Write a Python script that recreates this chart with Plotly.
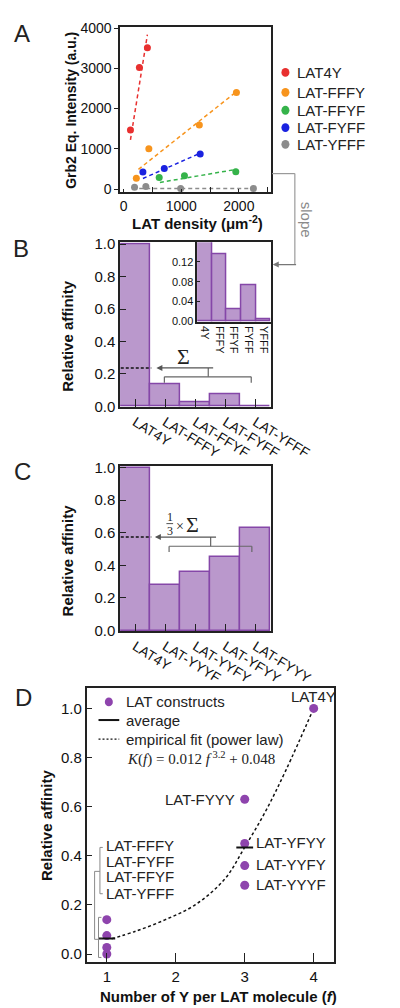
import plotly.graph_objects as go

W, H = 400, 1008
def X(px): return px / W
def Y(py): return 1 - py / H

FONT = "Liberation Sans, Arial, sans-serif"
SERIF = "Liberation Serif, DejaVu Serif, serif"

# ---------------- Panel A data ----------------
a_names = ["LAT4Y", "LAT-FFFY", "LAT-FFYF", "LAT-FYFF", "LAT-YFFF"]
a_colors = ["#E8302F", "#F7941D", "#35B34A", "#1A22E0", "#8C8C8C"]
lat4y_x = [119, 274, 413]
lat4y_y = [1469, 3020, 3510]
fffy_x = [221, 438, 1314, 1958]
fffy_y = [269, 1000, 1591, 2399]
ffyf_x = [618, 1056, 1947]
ffyf_y = [286, 328, 433]
fyff_x = [335, 706, 1329]
fyff_y = [426, 514, 874]
yfff_x = [190, 386, 990, 2252]
yfff_y = [42, 66, 17, 17]
lat4y_fit_x, lat4y_fit_y = [119, 413], [1224, 3836]
fffy_fit_x, fffy_fit_y = [258, 1983], [490, 2448]
ffyf_fit_x, ffyf_fit_y = [630, 1958], [164, 490]
fyff_fit_x, fyff_fit_y = [335, 1365], [262, 915]
yfff_fit_x, yfff_fit_y = [150, 2260], [17, 17]

# ---------------- Panel B data ----------------
b_cats = ["LAT4Y", "LAT-FFFY", "LAT-FFYF", "LAT-FYFF", "LAT-YFFF"]
b_vals = [1.0, 0.135, 0.025, 0.073, 0.004]
b_inset_labels = ["4Y", "FFFY", "FFYF", "FYFF", "YFFF"]

# ---------------- Panel C data ----------------
c_cats = ["LAT4Y", "LAT-YYYF", "LAT-YYFY", "LAT-YFYY", "LAT-FYYY"]
c_vals = [1.0, 0.28, 0.36, 0.45, 0.63]

# ---------------- Panel D data ----------------
d_f1 = [1, 1, 1, 1]
d_k1 = [0.14, 0.075, 0.027, 0.0]
d_f3 = [3, 3, 3, 3]
d_k3 = [0.63, 0.45, 0.36, 0.28]
d_f4 = [4]
d_k4 = [1.0]
avg_f = [1, 3]
avg_k = [0.063, 0.434]
fit_f = [1.07, 1.42, 1.85, 2.28, 2.71, 2.99, 3.3, 3.6, 4.0]
fit_k = [0.062, 0.093, 0.14, 0.2, 0.305, 0.43, 0.58, 0.75, 1.0]

BAR_FILL = "#BA98CC"
BAR_LINE = "#8547A8"
PURPLE = "#8E44AD"

fig = go.Figure()

# Panel A traces
a_sets = [(lat4y_x, lat4y_y, lat4y_fit_x, lat4y_fit_y),
          (fffy_x, fffy_y, fffy_fit_x, fffy_fit_y),
          (ffyf_x, ffyf_y, ffyf_fit_x, ffyf_fit_y),
          (fyff_x, fyff_y, fyff_fit_x, fyff_fit_y),
          (yfff_x, yfff_y, yfff_fit_x, yfff_fit_y)]
for (px_, py_, fx, fy), col, nm in zip(a_sets, a_colors, a_names):
    fig.add_trace(go.Scatter(x=fx, y=fy, mode="lines", xaxis="x", yaxis="y",
                             line=dict(color=col, width=1.5, dash="4px,3px"),
                             showlegend=False, hoverinfo="skip"))
    fig.add_trace(go.Scatter(x=px_, y=py_, mode="markers", xaxis="x", yaxis="y",
                             marker=dict(color=col, size=7), name=nm, showlegend=False))

# Panel B main
fig.add_trace(go.Bar(x=b_cats, y=b_vals, xaxis="x2", yaxis="y2", width=1,
                     marker=dict(color=BAR_FILL, line=dict(color=BAR_LINE, width=1.5)),
                     showlegend=False))
# Panel B inset
fig.add_trace(go.Bar(x=b_inset_labels, y=b_vals, xaxis="x3", yaxis="y3", width=1,
                     marker=dict(color=BAR_FILL, line=dict(color=BAR_LINE, width=1.5)),
                     showlegend=False))
# Panel C
fig.add_trace(go.Bar(x=c_cats, y=c_vals, xaxis="x4", yaxis="y4", width=1,
                     marker=dict(color=BAR_FILL, line=dict(color=BAR_LINE, width=1.5)),
                     showlegend=False))
# Panel D
fig.add_trace(go.Scatter(x=fit_f, y=fit_k, mode="lines", xaxis="x5", yaxis="y5",
                         line=dict(color="#111", width=1.5, dash="3px,2.5px", shape="spline"),
                         showlegend=False, hoverinfo="skip"))
fig.add_trace(go.Scatter(x=d_f1 + d_f3 + d_f4, y=d_k1 + d_k3 + d_k4, mode="markers",
                         xaxis="x5", yaxis="y5",
                         marker=dict(color=PURPLE, size=9), showlegend=False))
fig.add_trace(go.Scatter(x=avg_f, y=avg_k, mode="markers", xaxis="x5", yaxis="y5",
                         marker=dict(symbol="line-ew", size=12, line=dict(color="#111", width=2)),
                         showlegend=False))

def axc(size=15):
    return dict(showline=True, mirror=True, linecolor="#222", linewidth=1.5,
                showgrid=False, zeroline=False, tickcolor="#222",
                tickfont=dict(family=FONT, size=size, color="#111"))

layout = dict(
    width=W, height=H, autosize=False,
    margin=dict(l=0, r=0, t=0, b=0),
    paper_bgcolor="white", plot_bgcolor="white",
    font=dict(family=FONT, color="#111"),
    bargap=0,
    xaxis=dict(domain=[X(126), X(295)], range=[-60, 2550], anchor="y",
               tickvals=[0, 1000, 2000], ticks="inside", ticklen=4,
               minor=dict(tickvals=[500, 1500, 2500], ticks="inside", ticklen=6, tickcolor="#222"),
               **axc(14)),
    yaxis=dict(domain=[Y(180), Y(12)], range=[-81, 4032], anchor="x",
               tickvals=[0, 1000, 2000, 3000, 4000], ticks="outside", ticklen=4,
               **axc(14)),
    xaxis2=dict(domain=[X(126), X(295)], range=[-0.5, 4.5], anchor="y2",
                type="category", tickangle=32, ticks="inside", ticklen=8,
                **axc(14)),
    yaxis2=dict(domain=[Y(398), Y(230.7)], range=[-0.004, 1.0115], anchor="x2",
                tickvals=[0, 0.2, 0.4, 0.6, 0.8, 1.0], tickformat=".1f",
                ticks="inside", ticklen=6, **axc(15)),
    xaxis4=dict(domain=[X(126), X(295)], range=[-0.5, 4.5], anchor="y4",
                type="category", tickangle=32, ticks="inside", ticklen=8,
                **axc(14)),
    yaxis4=dict(domain=[Y(625.7), Y(457.7)], range=[-0.005, 1.01], anchor="x4",
                tickvals=[0, 0.2, 0.4, 0.6, 0.8, 1.0], tickformat=".1f",
                ticks="inside", ticklen=6, **axc(15)),
    xaxis5=dict(domain=[X(88.3), X(366.7)], range=[0.707, 4.30], anchor="y5",
                tickvals=[1, 2, 3, 4], ticks="inside", ticklen=10,
                **axc(15)),
    yaxis5=dict(domain=[Y(961.7), Y(682.7)], range=[-0.034, 1.085], anchor="x5",
                tickvals=[0, 0.2, 0.4, 0.6, 0.8, 1.0], tickformat=".1f",
                ticks="inside", ticklen=6, **axc(15)),
    xaxis3=dict(domain=[X(212.7), X(295)], range=[-0.5, 4.5], anchor="y3",
                type="category", tickangle=90, ticks="", **axc(11)),
    yaxis3=dict(domain=[Y(311.7), Y(230.7)], range=[-0.002, 0.16], anchor="x3",
                tickvals=[0, 0.04, 0.08, 0.12], tickformat=".2f",
                ticks="inside", ticklen=3, **axc(11)),
)
fig.update_layout(**layout)

ann = []
shapes = []

def text(x, y, t, size=15, xanchor="center", yanchor="middle", angle=0, color="#111",
         family=FONT):
    ann.append(dict(x=X(x), y=Y(y), xref="paper", yref="paper", text=t, showarrow=False,
                    xanchor=xanchor, yanchor=yanchor, textangle=angle,
                    font=dict(family=family, size=size, color=color)))

def line(x0, y0, x1, y1, color="#666", width=1.2, dash=None):
    d = dict(type="line", xref="paper", yref="paper", x0=X(x0), y0=Y(y0), x1=X(x1), y1=Y(y1),
             line=dict(color=color, width=width))
    if dash:
        d["line"]["dash"] = dash
    shapes.append(d)

def arrow(hx, hy, tx, ty, color="#555"):
    ann.append(dict(x=X(hx), y=Y(hy), xref="paper", yref="paper", ax=tx - hx, ay=ty - hy,
                    text="", showarrow=True, arrowhead=2, arrowsize=1, arrowwidth=1.2,
                    arrowcolor=color, standoff=0))

# panel letters
text(16, 19, "A", size=24, color="#222")
text(15, 237, "B", size=24, color="#222")
text(16, 463, "C", size=24, color="#222")
text(17, 693, "D", size=24, color="#222")

# axis titles
text(70, 97, "<b>Grb2 Eq. Intensity (a.u.)</b>", size=14, angle=-90)
text(213, 211, "<b>LAT density (μm<sup>-2</sup>)</b>", size=15)
text(67, 326, "<b>Relative affinity</b>", size=15, angle=-90)
text(67, 554, "<b>Relative affinity</b>", size=15, angle=-90)
text(43, 822, "<b>Relative affinity</b>", size=15, angle=-90)
text(236, 996, "<b>Number of Y per LAT molecule (<i>f</i>)</b>", size=15)

# Panel A legend
leg_y = [58.3, 78.5, 96.7, 114.3, 131.3]
for nm, col, yy in zip(a_names, a_colors, leg_y):
    shapes.append(dict(type="circle", xref="paper", yref="paper",
                       x0=X(311.7 - 4.5), x1=X(311.7 + 4.5), y0=Y(yy + 4.5), y1=Y(yy - 4.5),
                       fillcolor=col, line=dict(width=0)))
    text(322.7, yy, nm, size=15, xanchor="left", color="#222")

# slope connector
GR = "#9A9A9A"
line(296.7, 161, 322.3, 161, color=GR, width=1.2)
line(322.3, 161, 322.3, 253.3, color=GR, width=1.2)
arrow(297.5, 253.3, 322.3, 253.3, color="#777")
text(335, 208, "slope", size=15, angle=90, color="#8A8A8A")

# Panel B sum annotation
line(126.7, 358.3, 161, 358.3, color="#111", width=1.5, dash="3px,2px")
arrow(166.7, 358.3, 225, 358.3)
line(225, 358.3, 225, 367.3, color="#666")
line(175.7, 367.3, 273.3, 367.3, color="#666")
line(175.7, 367.3, 175.7, 373.3, color="#666")
line(273.3, 367.3, 273.3, 373.3, color="#666")
text(196.7, 347, "Σ", size=22, family=SERIF, color="#222")

# Panel C (1/3)×Σ annotation
line(126.7, 530, 161, 530, color="#111", width=1.5, dash="3px,2px")
arrow(165, 530, 227.7, 530)
line(227.7, 530, 227.7, 539.3, color="#666")
line(181, 539.3, 274, 539.3, color="#666")
line(181, 539.3, 181, 545, color="#666")
line(274, 539.3, 274, 545, color="#666")
text(181.7, 509.5, "1", size=12, family=SERIF, color="#222")
line(178, 516.3, 185.5, 516.3, color="#222", width=0.8)
text(181.7, 523.5, "3", size=12, family=SERIF, color="#222")
text(193.3, 519, "×", size=14, family=SERIF, color="#222")
text(207, 517.5, "Σ", size=22, family=SERIF, color="#222")

# Panel D legend
shapes.append(dict(type="circle", xref="paper", yref="paper",
                   x0=X(113.3 - 4.5), x1=X(113.3 + 4.5), y0=Y(697.3 + 4.5), y1=Y(697.3 - 4.5),
                   fillcolor=PURPLE, line=dict(width=0)))
text(130, 697.3, "LAT constructs", xanchor="left", color="#222")
line(101.7, 715.7, 125, 715.7, color="#111", width=2)
text(130, 715.7, "average", xanchor="left", color="#222")
line(101.7, 735, 125, 735, color="#111", width=1.2, dash="2px,2px")
text(130, 735, "empirical fit (power law)", xanchor="left", color="#222")
text(132, 755, "<i>K</i>(<i>f</i>) = 0.012 <i>f</i><sup> 3.2</sup> + 0.048",
     xanchor="left", size=15, family=SERIF, color="#222")

# Panel D labels
text(343, 691.5, "LAT4Y", color="#222")
text(257, 796.7, "LAT-FYYY", xanchor="right", color="#222")
text(276.7, 840, "LAT-YFYY", xanchor="left", color="#222")
text(276.7, 862.7, "LAT-YYFY", xanchor="left", color="#222")
text(276.7, 882.7, "LAT-YYYF", xanchor="left", color="#222")
for lab, yy in zip(["LAT-FFFY", "LAT-FYFF", "LAT-FFYF", "LAT-YFFF"], [843.3, 858.8, 875, 891.7]):
    text(108.3, yy, lab, xanchor="left", color="#222")

# Panel D brackets
BG = "#8A8A8A"
line(103.3, 845, 103.3, 892, color=BG, width=1)
line(103.3, 845, 106.5, 845, color=BG, width=1)
line(103.3, 892, 106.5, 892, color=BG, width=1)
line(101.7, 916, 101.7, 956.7, color=BG, width=1)
line(101.7, 916, 105, 916, color=BG, width=1)
line(101.7, 956.7, 105, 956.7, color=BG, width=1)
line(97.3, 869.3, 97.3, 938.3, color=BG, width=1)
line(97.3, 869.3, 103.3, 869.3, color=BG, width=1)
line(97.3, 938.3, 106, 938.3, color=BG, width=1)

fig.update_layout(annotations=ann, shapes=shapes)
fig.write_html("out.html")
